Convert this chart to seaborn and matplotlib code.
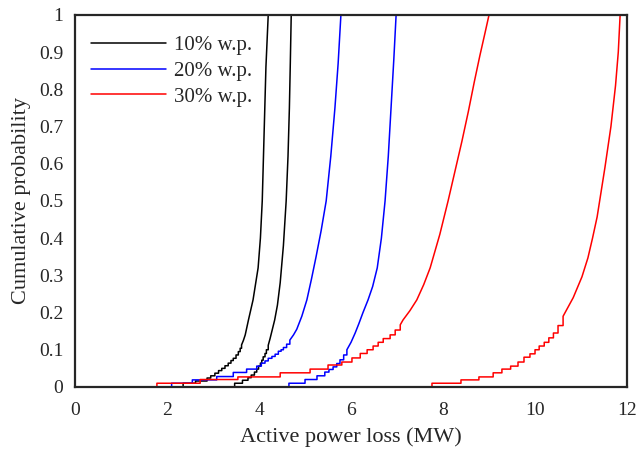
import numpy as np
import pandas as pd
import matplotlib
matplotlib.use("Agg")
import matplotlib.pyplot as plt
import seaborn as sns
from matplotlib.lines import Line2D

# ---- data (x in MW, cumulative probability) ----
series_names = ["10% w.p.", "20% w.p.", "30% w.p."]
series_colors = ["#000000", "#0000FF", "#FF0000"]
x_min, x_max = 0, 12

# lower, visibly stepped part of each CDF: (jump position, level after jump)
b1_step_x = [2.35, 2.62, 2.87, 2.95, 3.04, 3.12, 3.19, 3.26, 3.33, 3.39, 3.44, 3.50, 3.55, 3.59, 3.62]
b1_step_y = [0.010, 0.016, 0.024, 0.030, 0.037, 0.044, 0.050, 0.057, 0.064, 0.071, 0.077, 0.086, 0.095, 0.104, 0.113]
b1_curve_x = [3.66, 3.70, 3.77, 3.87, 3.98, 4.03, 4.07, 4.11, 4.15, 4.20]
b1_curve_y = [0.125, 0.14, 0.18, 0.234, 0.32, 0.40, 0.50, 0.68, 0.86, 1.0]

b2_step_x = [3.47, 3.64, 3.76, 3.83, 3.90, 3.95, 3.99, 4.03, 4.06, 4.09, 4.13, 4.16, 4.20]
b2_step_y = [0.010, 0.018, 0.025, 0.032, 0.040, 0.048, 0.056, 0.064, 0.072, 0.081, 0.090, 0.100, 0.112]
b2_curve_x = [4.24, 4.28, 4.34, 4.40, 4.46, 4.53, 4.59, 4.63, 4.66, 4.68, 4.70]
b2_curve_y = [0.13, 0.15, 0.18, 0.22, 0.28, 0.38, 0.50, 0.62, 0.75, 0.87, 1.0]

u1_step_x = [2.10, 2.55, 3.08, 3.44, 3.73, 3.95, 4.05, 4.13, 4.20, 4.28, 4.35, 4.42, 4.48, 4.53, 4.60, 4.67]
u1_step_y = [0.010, 0.019, 0.028, 0.039, 0.048, 0.056, 0.064, 0.070, 0.077, 0.082, 0.088, 0.096, 0.100, 0.106, 0.115, 0.126]
u1_curve_x = [4.75, 4.82, 4.93, 5.04, 5.14, 5.24, 5.35, 5.46, 5.56, 5.65, 5.72, 5.78]
u1_curve_y = [0.14, 0.155, 0.19, 0.234, 0.29, 0.35, 0.42, 0.50, 0.62, 0.75, 0.87, 1.0]

u2_step_x = [4.65, 5.00, 5.26, 5.43, 5.52, 5.61, 5.69, 5.76, 5.84, 5.91]
u2_step_y = [0.010, 0.020, 0.030, 0.040, 0.047, 0.054, 0.063, 0.073, 0.086, 0.100]
u2_curve_x = [6.00, 6.09, 6.17, 6.26, 6.37, 6.47, 6.57, 6.66, 6.74, 6.81, 6.87, 6.93, 6.98]
u2_curve_y = [0.12, 0.145, 0.17, 0.20, 0.234, 0.27, 0.32, 0.40, 0.50, 0.62, 0.75, 0.88, 1.0]

r1_step_x = [1.78, 2.72, 3.54, 4.46, 5.11, 5.50, 5.80, 6.02, 6.20, 6.35, 6.48, 6.59, 6.70, 6.85, 6.96, 7.07]
r1_step_y = [0.010, 0.020, 0.027, 0.038, 0.048, 0.059, 0.067, 0.078, 0.090, 0.100, 0.110, 0.120, 0.130, 0.140, 0.153, 0.167]
r1_curve_x = [7.13, 7.28, 7.43, 7.58, 7.72, 7.93, 8.11, 8.26, 8.41, 8.55, 8.68, 8.80, 8.91, 9.00]
r1_curve_y = [0.18, 0.205, 0.234, 0.275, 0.32, 0.41, 0.50, 0.58, 0.66, 0.74, 0.82, 0.89, 0.95, 1.0]

r2_step_x = [7.76, 8.39, 8.78, 9.09, 9.28, 9.47, 9.63, 9.76, 9.89, 10.00, 10.09, 10.20, 10.30, 10.40, 10.50, 10.61]
r2_step_y = [0.010, 0.019, 0.027, 0.038, 0.048, 0.056, 0.067, 0.080, 0.089, 0.100, 0.110, 0.120, 0.132, 0.145, 0.165, 0.19]
r2_curve_x = [10.72, 10.83, 11.02, 11.15, 11.25, 11.35, 11.52, 11.65, 11.75, 11.81, 11.85]
r2_curve_y = [0.215, 0.24, 0.296, 0.347, 0.40, 0.457, 0.59, 0.70, 0.81, 0.90, 1.0]

curves = [
    ("10% w.p.", "b1", b1_step_x, b1_step_y, b1_curve_x, b1_curve_y),
    ("10% w.p.", "b2", b2_step_x, b2_step_y, b2_curve_x, b2_curve_y),
    ("20% w.p.", "u1", u1_step_x, u1_step_y, u1_curve_x, u1_curve_y),
    ("20% w.p.", "u2", u2_step_x, u2_step_y, u2_curve_x, u2_curve_y),
    ("30% w.p.", "r1", r1_step_x, r1_step_y, r1_curve_x, r1_curve_y),
    ("30% w.p.", "r2", r2_step_x, r2_step_y, r2_curve_x, r2_curve_y),
]

rows = []
for name, cid, sx, sy, cx, cy in curves:
    pts = [(x_min, 0.0)]
    prev = 0.0
    for x, y in zip(sx, sy):
        pts.append((x, prev))
        pts.append((x, y))
        prev = y
    pts += list(zip(cx, cy))
    pts.append((x_max, 1.0))
    for i, (x, y) in enumerate(pts):
        rows.append({"x": x, "y": y, "series": name, "curve": cid, "order": i})
df = pd.DataFrame(rows)

# ---- plotting ----
sns.set_theme(style="white")
plt.rcParams["font.family"] = ["Liberation Serif", "DejaVu Serif"]

fig = plt.figure(figsize=(6.38, 4.51), dpi=100)
ax = fig.add_axes([0.1176, 0.142, 0.9828 - 0.1176, 0.967 - 0.142])

palette = dict(zip(series_names, series_colors))
sns.lineplot(data=df, x="x", y="y", hue="series", units="curve", estimator=None,
             sort=False, palette=palette, linewidth=1.1, legend=False, ax=ax)

ax.set_xlim(0, 12)
ax.set_ylim(0, 1)
ax.set_xticks(np.arange(0, 13, 2))
ax.set_xticklabels([str(v) for v in range(0, 13, 2)])
yt = np.round(np.arange(0, 1.01, 0.1), 1)
ax.set_yticks(yt)
ax.set_yticklabels(["0"] + [f"{v:.1f}" for v in yt[1:-1]] + ["1"])
ax.tick_params(axis="both", length=0, labelsize=14, colors="#262626")
ax.tick_params(axis="x", pad=11)
ax.tick_params(axis="y", pad=8.5)
for s in ax.spines.values():
    s.set_visible(True)
    s.set_color("#262626")
    s.set_linewidth(1.6)

ax.set_xlabel("Active power loss (MW)", fontsize=16, color="#262626", labelpad=6)
ax.set_ylabel("Cumulative probability", fontsize=16, color="#262626", labelpad=6)

handles = [Line2D([0], [0], color=c, lw=1.1) for c in series_colors]
ax.legend(handles, series_names, loc="upper left", bbox_to_anchor=(-0.005, 0.995),
          frameon=False, fontsize=15, handlelength=3.6, handletextpad=0.4,
          labelspacing=0.3)

fig.savefig("out.png", dpi=100)
